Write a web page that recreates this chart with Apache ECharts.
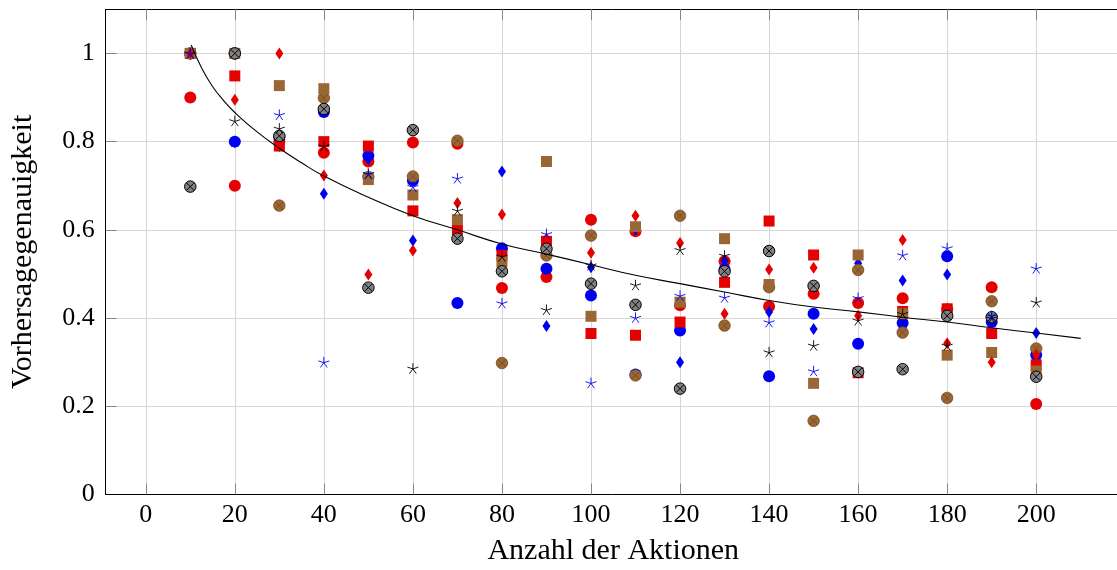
<!DOCTYPE html>
<html>
<head>
<meta charset="utf-8">
<script src="https://cdn.jsdelivr.net/npm/echarts@6/dist/echarts.min.js"></script>
<style>
html,body{margin:0;padding:0;background:#fff;}
#chart{width:1117px;height:570px;}
</style>
</head>
<body>
<div id="chart"></div>
<script>
// ---- data ----
const xValues = [10,20,30,40,50,60,70,80,90,100,110,120,130,140,150,160,170,180,190,200];
const xTicks = [0,20,40,60,80,100,120,140,160,180,200];
const yTicks = [0,0.2,0.4,0.6,0.8,1];

const blackStar   = [1.0,0.847,0.83,0.79,0.727,0.286,0.644,0.54,0.419,0.52,0.475,0.555,0.542,0.323,0.338,0.395,0.41,0.338,0.40,0.436];
const blueStar    = [1.0,0.80,0.861,0.30,0.727,0.698,0.717,0.434,0.591,0.253,0.401,0.451,0.447,0.391,0.28,0.446,0.543,0.559,0.405,0.513];
const redDiamond  = [1.0,0.895,1.0,0.723,0.499,0.553,0.661,0.635,0.58,0.548,0.632,0.57,0.41,0.51,0.514,0.405,0.577,0.343,0.30,0.317];
const blueDiamond = [1.0,0.80,0.79,0.682,0.76,0.576,0.60,0.732,0.382,0.515,0.60,0.30,0.53,0.414,0.375,0.524,0.485,0.499,0.395,0.366];
const redCircle   = [0.90,0.70,0.80,0.775,0.755,0.798,0.795,0.468,0.493,0.623,0.597,0.429,0.529,0.426,0.455,0.434,0.445,0.42,0.47,0.205];
const blueCircle  = [1.0,0.80,0.81,0.867,0.768,0.712,0.434,0.558,0.512,0.451,0.272,0.372,0.51,0.268,0.41,0.342,0.389,0.54,0.391,0.316];
const redSquare   = [1.0,0.949,0.79,0.80,0.79,0.643,0.60,0.542,0.574,0.365,0.361,0.391,0.481,0.62,0.543,0.276,0.415,0.421,0.365,0.294];
const brownSquare = [1.0,1.0,0.927,0.92,0.714,0.679,0.623,0.527,0.755,0.404,0.607,0.436,0.58,0.476,0.252,0.543,0.41,0.316,0.322,0.28];
const brownOtimes = [1.0,1.0,0.655,0.899,0.72,0.721,0.802,0.298,0.542,0.587,0.27,0.632,0.383,0.47,0.167,0.509,0.367,0.219,0.438,0.331];
const grayOtimes  = [0.698,1.0,0.813,0.874,0.469,0.826,0.58,0.506,0.557,0.478,0.43,0.24,0.506,0.552,0.473,0.278,0.284,0.405,0.402,0.267];

const curveX = [10.2,12.5,15,17.5,20,25,30,35,40,50,60,70,80,90,100,110,120,130,140,150,160,170,180,190,200,210];
const curveY = [1.019,0.968,0.925,0.893,0.866,0.822,0.785,0.752,0.722,0.674,0.632,0.60,0.568,0.545,0.521,0.497,0.478,0.459,0.44,0.425,0.414,0.402,0.391,0.378,0.366,0.354];

// ---- styling ----
const FONT = '"Liberation Serif", "DejaVu Serif", serif';
const RED = '#e60000', BLUE = '#0000f0', BROWN = '#9a6634', GRAY = '#808080';
const STAR = 'path://M0,-10L0,0M9.511,-3.09L0,0M5.878,8.09L0,0M-5.878,8.09L0,0M-9.511,-3.09L0,0';
const CROSS = 'path://M-1,-1L1,1M1,-1L-1,1';

function pairs(arr){ return arr.map((v,i)=>[xValues[i], v]); }

function scatter(name, arr, symbol, size, itemStyle){
  return {
    type:'scatter', name, data: pairs(arr), symbol, symbolSize: size,
    itemStyle: Object.assign({opacity:1}, itemStyle), silent:true, emphasis:{disabled:true}
  };
}

const series = [
  {
    type:'line', name:'fit',
    data: curveX.map((x,i)=>[x, curveY[i]]),
    smooth:0.5, showSymbol:false, symbol:'none', silent:true,
    lineStyle:{color:'#000', width:1.1}
  },
  scatter('redCircle', redCircle, 'circle', 12, {color:RED}),
  scatter('blueCircle', blueCircle, 'circle', 12, {color:BLUE}),
  scatter('blueDiamond', blueDiamond, 'diamond', [8,12], {color:BLUE}),
  scatter('redSquare', redSquare, 'rect', 11, {color:RED}),
  scatter('brownOtimes', brownOtimes, 'circle', 11.5, {color:BROWN, borderColor:'#7a4c22', borderWidth:0.8}),
  scatter('brownOtimesX', brownOtimes, CROSS, 7.6, {color:'rgba(0,0,0,0)', borderColor:'#74481f', borderWidth:0.8}),
  scatter('brownSquare', brownSquare, 'rect', 11, {color:BROWN}),
  scatter('redDiamond', redDiamond, 'diamond', [8,12], {color:RED}),
  scatter('grayOtimes', grayOtimes, 'circle', 11.5, {color:GRAY, borderColor:'#000', borderWidth:1}),
  scatter('grayOtimesX', grayOtimes, CROSS, 7.4, {color:'rgba(0,0,0,0)', borderColor:'#000', borderWidth:1}),
  scatter('blackStar', blackStar, STAR, [11,10.5], {color:'rgba(0,0,0,0)', borderColor:'#000', borderWidth:0.9}),
  scatter('blueStar', blueStar, STAR, [11,10.5], {color:'rgba(0,0,0,0)', borderColor:BLUE, borderWidth:0.9})
];

const chart = echarts.init(document.getElementById('chart'), null, {renderer:'canvas'});
chart.setOption({
  animation:false,
  backgroundColor:'#fff',
  grid:{left:105.7, right:-3.8, top:9.3, bottom:75.5, outerBoundsMode:'none', containLabel:false},
  xAxis:[{
    type:'value', min:-9, max:219, position:'bottom',
    name:'Anzahl der Aktionen', nameLocation:'middle', nameGap:42,
    nameTextStyle:{fontFamily:FONT, fontSize:30, color:'#000'},
    axisLine:{show:true, onZero:false, lineStyle:{color:'#000', width:1}},
    axisTick:{show:true, inside:true, length:11, customValues:xTicks, lineStyle:{color:'#888', width:1}},
    axisLabel:{show:true, customValues:xTicks, margin:8, fontFamily:FONT, fontSize:26, color:'#000'},
    splitLine:{show:true, lineStyle:{color:'#d6d6d6', width:1}}
  },{
    type:'value', min:-9, max:219, position:'top',
    axisLine:{show:true, onZero:false, lineStyle:{color:'#000', width:1}},
    axisTick:{show:true, inside:true, length:11, customValues:xTicks, lineStyle:{color:'#888', width:1}},
    axisLabel:{show:false},
    splitLine:{show:false}
  }],
  yAxis:[{
    type:'value', min:0, max:1.1, position:'left',
    name:'Vorhersagegenauigkeit', nameLocation:'middle', nameGap:68,
    nameTextStyle:{fontFamily:FONT, fontSize:30, color:'#000'},
    axisLine:{show:true, onZero:false, lineStyle:{color:'#000', width:1}},
    axisTick:{show:true, inside:true, length:11, customValues:yTicks.filter(v=>v>0), lineStyle:{color:'#888', width:1}},
    axisLabel:{show:true, customValues:yTicks, margin:11, fontFamily:FONT, fontSize:26, color:'#000',
      formatter:v=>String(+(+v).toFixed(1))},
    splitLine:{show:true, lineStyle:{color:'#d6d6d6', width:1}}
  }],
  series: series.map(s=>Object.assign(s, {xAxisIndex:0, yAxisIndex:0}))
});
</script>
</body>
</html>
